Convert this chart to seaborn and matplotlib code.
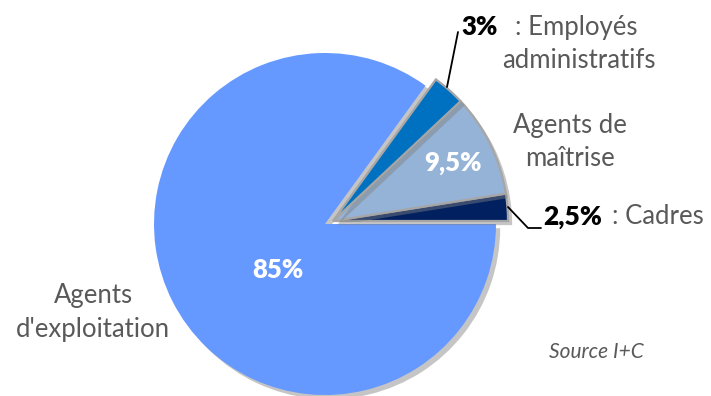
import matplotlib
matplotlib.use("Agg")
import matplotlib.pyplot as plt
import matplotlib.patheffects as pe
import seaborn as sns

# ---- data ----
categories = ["Cadres", "Agents de maîtrise", "Employés administratifs", "Agents d'exploitation"]
values = [2.5, 9.5, 3, 85]
pct_labels = ["2,5%", "9,5%", "3%", "85%"]
colors = ["#002060", "#95B3D7", "#0070C0", "#6699FF"]
source_text = "Source I+C"

sns.set_theme(style="white")
plt.rcParams['font.family'] = ['Lato', 'DejaVu Sans']

W, H = 711, 396
fig = plt.figure(figsize=(W / 100, H / 100), dpi=100)
ax = fig.add_axes([0, 0, 1, 1])

def P(x, y):
    """pixel (top-left origin) -> data coords"""
    return (x, H - y)

cx, cy = P(325, 224)
wedges, _ = ax.pie(values, colors=colors, startangle=0, counterclock=True,
                   center=(cx, cy), radius=171,
                   wedgeprops=dict(linewidth=0))
ax.set_xlim(0, W)
ax.set_ylim(0, H)
ax.set_aspect('equal')
ax.axis('off')

shadow = [pe.SimplePatchShadow(offset=(3, -3), shadow_rgbFace='#808080', alpha=0.45), pe.Normal()]
for i, w in enumerate(wedges):
    if i < 3:
        w.set_center(P(333, 221))
        w.set_radius(175)
        w.set_edgecolor('#a6a6a6')
        w.set_linewidth(1.6)
        w.set_zorder(3)
    else:
        w.set_zorder(2)
    w.set_path_effects(shadow)

gray = '#595959'
fs = 18.5
bw = 'heavy'

# 85% label and name
ax.text(*P(278, 270), pct_labels[3], color='white', fontsize=fs, fontweight=bw,
        ha='center', va='center', zorder=5)
ax.text(*P(93, 295), "Agents", color=gray, fontsize=fs, ha='center', va='center')
ax.text(*P(93, 329), "d'exploitation", color=gray, fontsize=fs, ha='center', va='center')

# 9,5%
ax.text(*P(453, 163), pct_labels[1], color='white', fontsize=fs, fontweight=bw,
        ha='center', va='center', zorder=5)
ax.text(*P(570, 125), "Agents de", color=gray, fontsize=fs, ha='center', va='center')
ax.text(*P(570, 158), "maîtrise", color=gray, fontsize=fs, ha='center', va='center')

# 3% employés
ax.plot(*zip(P(447, 87), P(458, 32)), color='black', lw=1.3, zorder=6)
ax.text(*P(461, 27), pct_labels[2], color='black', fontsize=fs, fontweight=bw,
        ha='left', va='center')
ax.text(*P(515, 27), ": Employés", color=gray, fontsize=fs, ha='left', va='center')
ax.text(*P(579, 60), "administratifs", color=gray, fontsize=fs, ha='center', va='center')

# 2,5% cadres
ax.plot(*zip(P(508, 207), P(528, 228), P(541, 228)), color='black', lw=1.3, zorder=6)
ax.text(*P(543, 217), pct_labels[0], color='black', fontsize=fs + 0.5, fontweight=bw,
        ha='left', va='center')
ax.text(*P(612, 217), ": Cadres", color=gray, fontsize=fs, ha='left', va='center')

# source
ax.text(*P(596, 352), source_text, color=gray, fontsize=15, fontstyle='italic',
        ha='center', va='center')

fig.savefig("out.png", dpi=100)
